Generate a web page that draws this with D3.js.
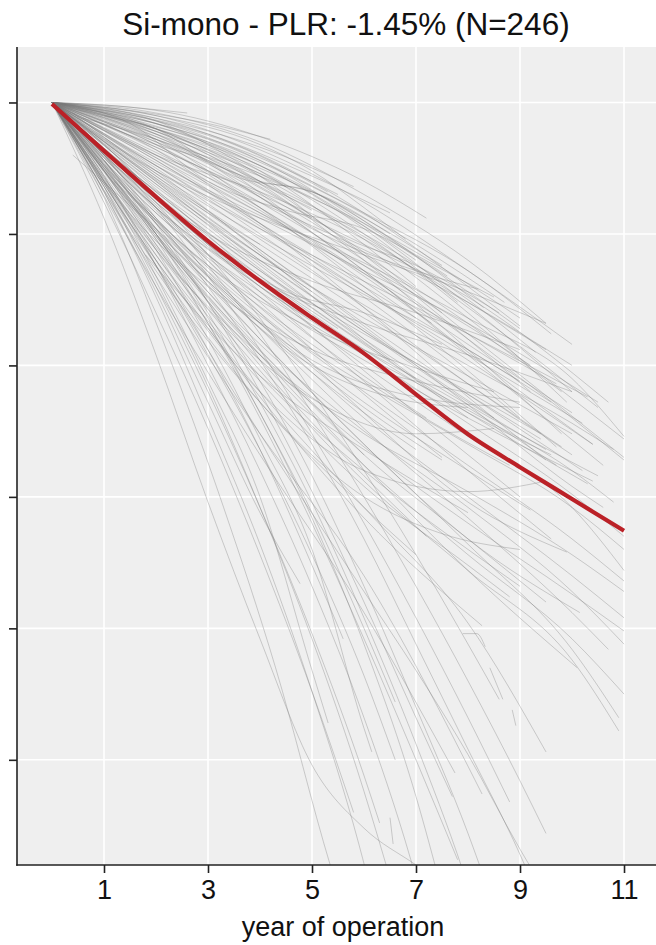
<!DOCTYPE html>
<html>
<head>
<meta charset="utf-8">
<script src="https://cdn.jsdelivr.net/npm/d3@7"></script>
<style>
  html, body { margin: 0; padding: 0; background: #ffffff; }
  svg { display: block; font-family: "Liberation Sans", Arial, Helvetica, sans-serif; }
</style>
</head>
<body>
<svg id="chart" width="656" height="945"></svg>
<script>
// Title and axis text
const chartTitle = "Si-mono - PLR: -1.45% (N=246)";
const xAxisTitle = "year of operation";

// Axis ticks (x in years, y in % of initial performance; y ticks carry no labels)
const xTicks = [1, 3, 5, 7, 9, 11];
const yTicks = [75, 80, 85, 90, 95, 100];

// Median degradation path (year, % of initial performance)
const medianYears  = [0, 1, 2, 3, 4, 5, 6, 7, 8, 9, 10, 11];
const medianValues = [99.94, 98.16, 96.41, 94.73, 93.21, 91.81, 90.46, 88.9, 87.38, 86.13, 84.92, 83.71];

// Individual systems: smoothed performance paths as [year, %] knots
const systemsUpper = [
  [[0,100],[2,99.7],[4,98.7],[6,97.0],[7.2,95.6]],
  [[0,100],[2,99.6],[4,98.5],[6,96.5],[8,94.0],[9.5,91.6]],
  [[0,100],[2,99.5],[4,98.2],[6,96.2],[8,93.6],[10,90.8]],
  [[0,100],[2,99.4],[4,98.0],[6,95.8],[8,93.0],[9,91.5]],
  [[0,100],[1.5,99.7],[3,99.2],[4.2,98.6]],
  [[0,100],[1,99.9],[2.6,99.6]],
  [[0,100],[2,99.2],[4,97.6],[6,95.3],[8,92.3],[10,89.0]],
  [[0,100],[2,99.0],[4,97.2],[6,94.8],[8,91.8],[11,87.2]],
  [[0,100],[2,98.8],[4,96.8],[6,94.3],[8,91.2],[11,86.5]],
  [[0,100],[2,98.6],[4,96.6],[6,94.2],[8,91.6],[9.8,89.0]],
  [[0,100],[2,99.0],[4,97.5],[6,95.6],[7.5,93.8]],
  [[0,100],[2,98.5],[4,96.4],[6,93.6],[8,90.5],[10.4,87.0]],
  [[0,100],[2,98.2],[4,96.0],[6,93.5],[8,90.8],[10,88.2]],
  [[0,100],[2,98.3],[4,96.5],[6,94.6],[8,92.6],[10.7,88.6]],
  [[0,100],[3,98.8],[5,97.2],[6.5,95.8]],
  [[0,100],[1,99.6],[3,98.2],[4.5,96.8]],
  [[0,100],[2,99.3],[3.5,98.4],[5.3,96.6]],
  [[0,100],[2,98.9],[4,97.0],[5,95.9]],
  [[0.3,99.8],[2,99.0],[4,97.6],[6,95.5],[8.3,92.2]],
  [[0,100],[2,98.0],[4,95.8],[6,93.5],[8,91.2],[9.7,89.3]],
  [[0,100],[2,97.9],[4,95.4],[6,92.8],[8,90.2],[10.4,87.0]],
  [[0,100],[2,97.6],[4,95.0],[6,92.2],[8,89.3],[10,86.6]],
  [[0,100],[2,98.0],[4,95.9],[6,93.2],[7,91.8]],
  [[0,100],[2,97.8],[4,95.3],[6,92.6],[8,89.6],[9,88.0]],
  [[0,100],[2,98.4],[4,96.2],[6,93.8],[8,91.0],[10,88.0],[11,86.4]],
  [[0,100],[1.5,99.1],[3,97.8],[5,95.6]],
  [[0,100],[2,99.1],[4,97.6],[6,95.2],[7.8,92.4]],
  [[0,100],[2,98.7],[4,97.0],[6,95.0],[8,92.5],[9.3,90.5]],
  [[0,100],[2,99.4],[4,98.3],[5.8,96.8]],
  [[0,100],[3,98.6],[6,95.8],[8,93.6],[9.6,91.2]],
  [[1,99.5],[3,98.5],[5,96.8],[7,94.6],[8.7,92.4]],
  [[0,100],[2,98.1],[4,96.2],[6,94.4],[8,92.4],[10,90.0]],
  [[0,100],[2,98.6],[4,97.2],[6,95.4],[8,93.1],[9,91.8]],
  [[0,100],[2,97.7],[4,95.7],[6,93.9],[8,91.8],[10,89.5],[11,87.3]],
  [[0,100],[2,98.3],[4,96.4],[6,94.0],[7.5,92.0]],
  [[0,100],[2,98.8],[4,97.3],[6,95.3],[7,94.0]],
  [[0.5,99.8],[2,99.2],[4,97.9],[5.5,96.5]],
  [[0,100],[2,98.9],[4,97.4],[6,95.0],[8,92.0],[9.9,88.6]],
  [[0,100],[2,98.5],[4,96.9],[6,94.9],[8,92.2],[10.5,88.4]],
  [[0,100],[2,97.9],[4,95.8],[6,93.8],[8,91.5],[9.2,90.0]],
  [[0,100],[2,99.0],[4,97.0],[6,94.2],[8,91.0],[9.2,89.0]],
  [[0,100],[2,98.6],[4,96.0],[6,93.0],[8,89.8],[9.7,86.9]],
  [[0,100],[2,98.2],[4,95.4],[6,92.2],[8,88.8],[9.5,86.4]],
  [[0,100],[2,99.2],[4,97.4],[6,94.6],[7,93.0]],
  [[0,100],[2,98.8],[4,96.4],[6,93.6],[8,90.4],[10.6,86.2]],
  [[0,100],[2,97.8],[4,95.4],[6,93.0],[8,90.6],[9,89.4]],
  [[0,100],[2,97.4],[4,95.2],[6,93.2],[8,91.2],[10.3,88.8]],
  [[0,100],[2,98.0],[4,96.6],[6,94.8],[8,92.4],[9.5,90.6]],
  [[0,100],[2,98.9],[4,96.9],[6,94.0],[8,90.6],[9.8,87.4]],
  [[0,100],[2,99.3],[4,97.8],[6,95.4],[8,92.8],[9,91.4]],
  [[0,100],[2,99.5],[4,98.4],[5,97.4],[6,96.0],[6.8,94.8]],
  [[0,100],[2,98.4],[4,96.0],[6,93.4],[7.3,91.6]],
  [[0,100],[2,97.6],[4,95.6],[6,93.6],[8,91.6],[10.5,88.6]],
  [[0,100],[1,98.6],[2,97.4],[4,95.6],[6,94.2],[8,92.8],[9.5,91.6]],
  [[0,100],[1,98.0],[3,95.0],[5,93.2],[7,92.0],[9,90.6]],
  [[0,100],[2,99.0],[3.5,97.2],[5,96.6],[7,94.2],[8.5,92.6]],
  [[0,100],[1.5,99.2],[3,97.0],[4.5,95.9],[6,95.2],[7.6,93.4]],
  [[0,100],[2,98.4],[3,97.8],[5,95.2],[7,93.6],[8.2,92.9]],
  [[0.6,99.4],[2,98.6],[4,97.0],[5,96.6],[6.5,95.0]],
  [[0,100],[2,99.3],[4,97.2],[5.5,95.0],[7,93.8],[8.6,92.0]]
];

const systemsMiddle = [
  [[0,100],[2,97.2],[4,94.6],[6,92.0],[8,89.3],[9.8,86.9]],
  [[0,100],[2,96.8],[4,94.0],[6,91.3],[8,88.6],[9.5,86.8]],
  [[0,100],[2,97.0],[4,93.9],[6,90.9],[8,88.0]],
  [[0,100],[2,96.3],[4,93.0],[6,90.0],[8,87.3],[10,84.6],[11,82.2]],
  [[0,100],[2,96.0],[4,92.6],[6,89.6],[7.2,88.0]],
  [[0,100],[2,96.6],[4,93.6],[6,90.8],[8,88.2],[10.3,85.5]],
  [[0,100],[2,97.4],[4,94.3],[6,91.0],[7,89.5]],
  [[0,100],[2,96.9],[4,94.2],[6,91.8],[8,89.6],[10,87.4]],
  [[0,100],[2,95.8],[4,92.6],[6,90.2],[8,88.0],[10.4,85.6]],
  [[0,100],[2,96.2],[4,93.4],[5.5,91.4]],
  [[0,100],[1,98.2],[3,95.2],[5,92.2],[6.5,90.2]],
  [[0,100],[2,96.4],[4,92.8],[6,89.4],[8,86.0],[9.6,83.4]],
  [[0,100],[2,95.6],[4,92.0],[6,89.0],[8,86.2],[10,83.4],[11,81.8]],
  [[0,100],[2,96.7],[4,93.2],[6,89.8],[8,86.6],[9,85.0]],
  [[0.4,99.6],[2,97.2],[4,94.4],[6,91.6],[8,88.9],[10.2,86.0]],
  [[0,100],[2,97.5],[4,94.8],[6,92.3],[8,90.0],[10,87.8],[10.8,86.8]],
  [[0,100],[2,96.1],[4,92.4],[6,88.9],[7.5,86.5]],
  [[0,100],[2,97.0],[4,94.0],[6,91.3],[8,88.9],[9.4,87.2]],
  [[0,100],[2,96.5],[4,93.4],[6,90.6],[8,88.2],[9.6,86.6]],
  [[0,100],[2,95.4],[4,91.7],[6,88.6],[8,86.0],[9.2,84.5]],
  [[0,100],[3,95.6],[5,92.8],[7,90.0],[8.5,88.0]],
  [[0,100],[2,97.3],[4,94.9],[6,92.7],[8,90.6],[9.6,88.6]],
  [[0,100],[2,96.0],[4,93.0],[6,90.4],[8,87.8],[10,85.1],[11,83.5]],
  [[0,100],[2,95.2],[4,91.4],[6,88.2],[7,86.8]],
  [[0,100],[2,95.9],[4,92.2],[5,90.6]],
  [[0,100],[2,97.6],[4,95.2],[6,92.8],[8,90.4],[10.2,87.8]],
  [[0,100],[2,96.6],[4,93.6],[6,91.2],[8,89.0],[9.4,87.4]],
  [[0,100],[2,95.5],[4,91.9],[6,89.3],[8,87.0],[10,84.6],[11,83.0]],
  [[0,100],[2,97.3],[4,94.4],[6,91.5],[8,88.5],[10,85.4],[10.6,84.6]],
  [[0,100],[2,96.9],[4,93.8],[6,91.0],[8,88.5],[10.5,85.8]],
  [[0,100],[2,96.2],[4,93.0],[6,90.6],[8,88.4],[9.7,86.2]],
  [[0,100],[2,95.8],[4,92.8],[6,90.4],[8,88.3],[10,86.0],[10.8,84.8]],
  [[0,100],[2,97.1],[4,94.2],[5,92.8]],
  [[0,100],[1.5,97.8],[3,95.8],[4,94.6]],
  [[0.4,98.0],[2,95.2],[4,91.6],[6,88.4],[7.5,86.4]],
  [[1.2,97.0],[3,93.8],[5,90.8],[7,88.2],[8.8,86.2]],
  [[1.8,94.2],[4,89.6],[6,86.8],[8,84.4]],
  [[0,100],[1,97.6],[3,93.8],[5,91.4],[7,89.9],[8.5,89.0]],
  [[0,100],[2,96.0],[4,93.2],[6,91.6],[8,90.4],[10,89.0]],
  [[0,100],[1,97.0],[3,93.0],[5,90.6],[7,89.4],[9,88.6]],
  [[0,100],[1.5,96.2],[3,93.2],[5,90.0],[6.5,88.8],[8,88.4]],
  [[0,100],[1,98.4],[3,94.6],[4.5,92.8],[6,92.0],[7.5,90.8]]
];

const systemsLower = [
  [[0,100],[2,95.0],[4,90.8],[6,87.5],[8,84.6],[10,81.4],[11,79.4]],
  [[0,100],[2,94.8],[4,90.2],[6,86.2],[8,82.8],[10,79.6],[11,77.5]],
  [[0,100],[2,95.2],[4,91.0],[6,87.0],[8,83.2],[10,79.2],[10.9,76.6]],
  [[0,100],[2,94.6],[4,89.8],[6,85.6],[8,82.2],[10,78.8],[10.9,76.1]],
  [[0,100],[2,94.4],[4,89.6],[6,86.0],[8,83.0],[9,81.6]],
  [[0,100],[2,94.0],[4,89.0],[6,84.6],[8,80.2],[9.5,75.3]],
  [[0,100],[2,94.2],[4,88.8],[6,84.2],[8.27,80.1]],
  [[0,100],[2,93.0],[4,86.6],[6,80.6],[7.75,74.5]],
  [[0,100],[2,93.4],[4,87.4],[6,82.0],[8.27,73.7]],
  [[0,100],[2,95.4],[4,91.4],[6,87.6],[8,84.2],[10,80.6],[10.7,79.2]],
  [[0,100],[2,95.1],[4,90.6],[6,86.6],[8,83.4],[9.5,81.0]],
  [[0,100],[2,94.9],[4,90.4],[6,86.9],[8,84.0],[10,81.3],[11,79.9]],
  [[0,100],[2,95.6],[4,91.6],[6,88.0],[8,85.0],[10,82.0],[11,80.4]],
  [[0,100],[2,94.2],[4,89.4],[6,85.4],[8,82.4],[8.8,81.2]],
  [[0,100],[2,95.0],[4,90.0],[6,85.8],[7.2,83.5]],
  [[0,100],[2,93.8],[4,88.6],[6,84.6],[7,82.8]],
  [[0,100],[2,94.4],[4,90.4],[6,87.4],[8,85.2],[10,82.8],[11,81.4]],
  [[0,100],[3,92.6],[5,88.6],[6,86.6]],
  [[0,100],[2,94.5],[4,90.2],[5.5,88.2],[7,87.4],[8.5,87.6]],
  [[0,100],[2,94.0],[4,89.0],[6,86.0],[8,85.2],[9.5,85.6]],
  [[1,97.8],[3,93.4],[5,90.2],[7,88.8],[9,88.4]],
  [[0,100],[2,93.6],[4,88.6],[6,85.0],[7.5,83.6],[9,83.0]],
  [[0,100],[2,96.0],[4,92.0],[6,88.2],[8,84.8],[9.9,82.9]],
  [[0,100],[2,95.4],[4,91.0],[6,87.0],[8,83.4],[10.15,80.6]],
  [[0,100],[2,95.0],[4,90.4],[6,86.2],[8,82.2],[10.1,78.5]],
  [[7.9,79.8],[8.17,79.8],[8.33,79.3]],
  [[8.42,78.5],[8.67,77.3]],
  [[8.85,76.9],[8.92,76.3]]
];

const systemsSteep = [
  [[0,100],[1,96.4],[2.2,90.6],[3.3,84.6],[4.3,78.5],[5.35,71.0],[5.6,69.4]],
  [[0,100],[1,96.6],[2,92.6],[3,88.0],[4,83.2],[5,77.6],[5.9,71.8],[6.2,69.5]],
  [[0,100],[1,96.8],[2,93.2],[3,89.2],[4,84.6],[5,79.6],[6,73.8],[6.5,70.5]],
  [[0,100],[1,97.2],[2,93.8],[3,90.0],[4,86.0],[5,81.6],[6,76.6],[6.9,71.2],[7.1,69.8]],
  [[0,100],[1,96.6],[2,92.8],[3,88.6],[4,84.4],[4.77,81.7]],
  [[0,100],[1,97.0],[2,93.4],[3,89.4],[4,85.0],[5,78.4],[5.31,76.4]],
  [[0,100],[1,97.4],[2,94.4],[3,91.0],[4,87.2],[5,83.0],[6,76.2],[6.15,75.3]],
  [[6.5,72.8],[6.56,71.8]],
  [[0,100],[1,97.4],[2,94.6],[3,91.6],[4,88.2],[5,84.2],[6,79.4],[7,73.6],[7.5,70.0]],
  [[0,100],[1,97.6],[2,95.0],[3,92.0],[4,88.6],[5,84.8],[6,80.4],[7,75.6],[7.9,70.8],[8.1,69.6]],
  [[0,100],[1,97.8],[2,95.2],[3,92.4],[4,89.4],[5,85.8],[6,81.6],[7,77.0],[8,72.2],[8.4,70.0]],
  [[0,100],[1,98.0],[2,95.6],[3,93.0],[4,90.2],[5,87.0],[6,83.4],[7,79.4],[8,75.4],[9,71.4],[9.2,70.5]],
  [[0,100],[1,95.6],[2,90.4],[3,84.8],[4,79.6],[5,74.8],[6,72.4],[7,71.0],[7.5,70.3]],
  [[0,100],[2,93.8],[4,87.4],[6,81.4],[7,78.4],[8,75.2],[9,71.6],[9.3,70.6]],
  [[0,100],[1,97.0],[2,93.8],[3,90.4],[4,86.8],[5,82.8],[6,78.2],[6.6,75.0]],
  [[0,100],[1,96.2],[2,92.0],[3,87.6],[4,82.8],[5,77.6],[5.8,73.0]],
  [[0,100],[1,97.6],[2,94.8],[3,91.6],[4,88.0],[5,84.0],[6,79.6],[7,75.0],[7.8,71.2]],
  [[0,100],[1,98.2],[2,96.0],[3,93.4],[4,90.6],[5,87.4],[6,84.0],[7,80.4],[8,76.6],[8.8,73.4]],
  [[0,100],[1,98.0],[2,95.4],[3,92.4],[4,89.0],[5,85.2],[6,81.0],[7,76.6],[7.7,73.6]],
  [[0,100],[1,97.2],[2,94.0],[3,90.6],[4,86.8],[5,82.4],[5.6,79.6]],
  [[0,100],[1,96.8],[2,93.0],[3,89.0],[4,84.6],[5,79.8],[6,74.4],[6.3,72.6]],
  [[0,100],[1,98.2],[2,96.2],[3,93.8],[4,91.2],[5,88.2],[6,85.0],[7,81.6],[8,78.0],[9,74.2],[9.5,72.2]],
  [[0,100],[1,98.4],[2,96.4],[3,94.2],[4,91.8],[5,89.0],[6,86.0],[7,82.8],[8,79.4],[8.6,77.3]],
  [[0,100],[1,97.8],[2,95.0],[3,91.8],[4,88.2],[5,84.4],[6,80.0],[6.6,77.2]]
];

// ---- layout ----
const panel = { left: 17, right: 656, top: 47, bottom: 865 };

const x = d3.scaleLinear().domain([-0.673, 11.615]).range([panel.left, panel.right]);
const y = d3.scaleLinear().domain([71.0, 102.11]).range([panel.bottom, panel.top]);

const svg = d3.select("#chart");

svg.append("defs").append("clipPath").attr("id", "panel-clip")
  .append("rect")
  .attr("x", panel.left).attr("y", panel.top)
  .attr("width", panel.right - panel.left).attr("height", panel.bottom - panel.top);

// panel background
svg.append("rect")
  .attr("x", panel.left).attr("y", panel.top)
  .attr("width", panel.right - panel.left).attr("height", panel.bottom - panel.top)
  .attr("fill", "#efefef");

// grid
const grid = svg.append("g").attr("clip-path", "url(#panel-clip)");
grid.selectAll("line.gx").data(xTicks).join("line")
  .attr("class", "gx")
  .attr("x1", d => x(d)).attr("x2", d => x(d))
  .attr("y1", panel.top).attr("y2", panel.bottom)
  .attr("stroke", "#ffffff").attr("stroke-width", 1.6);
grid.selectAll("line.gy").data(yTicks).join("line")
  .attr("class", "gy")
  .attr("y1", d => y(d)).attr("y2", d => y(d))
  .attr("x1", panel.left).attr("x2", panel.right)
  .attr("stroke", "#ffffff").attr("stroke-width", 1.6);

// systems
const line = d3.line()
  .x(d => x(d[0]))
  .y(d => y(d[1]))
  .curve(d3.curveMonotoneX);

const allSystems = systemsUpper.concat(systemsMiddle, systemsLower, systemsSteep);
const plot = svg.append("g").attr("clip-path", "url(#panel-clip)");
plot.selectAll("path.system").data(allSystems).join("path")
  .attr("class", "system")
  .attr("d", line)
  .attr("fill", "none")
  .attr("stroke", "#777777")
  .attr("stroke-opacity", 0.34)
  .attr("stroke-width", 1);

// median path
const medianLine = d3.line()
  .x(d => x(d[0]))
  .y(d => y(d[1]))
  .curve(d3.curveCatmullRom.alpha(0.5));
const medianPts = medianYears.map((yr, i) => [yr, medianValues[i]]);
plot.append("path")
  .datum(medianPts)
  .attr("d", medianLine)
  .attr("fill", "none")
  .attr("stroke", "#bb2127")
  .attr("stroke-width", 4.2)
  .attr("stroke-linecap", "butt");

// axes
const xAxis = d3.axisBottom(x).tickValues(xTicks).tickSize(8).tickPadding(7).tickFormat(d3.format("d"));
const yAxis = d3.axisLeft(y).tickValues(yTicks).tickSize(8).tickFormat("");

const gx = svg.append("g").attr("transform", `translate(0,${panel.bottom})`).call(xAxis);
gx.select(".domain").remove();
gx.selectAll(".tick line").attr("stroke", "#222").attr("stroke-width", 1.6);
gx.selectAll(".tick text").attr("fill", "#111").attr("font-size", 27)
  .attr("font-family", "'Liberation Sans', Arial, sans-serif");

const gy = svg.append("g").attr("transform", `translate(${panel.left},0)`).call(yAxis);
gy.select(".domain").remove();
gy.selectAll(".tick line").attr("stroke", "#222").attr("stroke-width", 1.6);

// axis lines
svg.append("line")
  .attr("x1", panel.left).attr("x2", panel.left)
  .attr("y1", panel.top).attr("y2", panel.bottom + 0.8)
  .attr("stroke", "#222").attr("stroke-width", 1.6);
svg.append("line")
  .attr("x1", panel.left - 0.8).attr("x2", panel.right)
  .attr("y1", panel.bottom).attr("y2", panel.bottom)
  .attr("stroke", "#222").attr("stroke-width", 1.6);

// titles
svg.append("text")
  .attr("x", 346)
  .attr("y", 35)
  .attr("text-anchor", "middle")
  .attr("font-size", 31.5)
  .attr("fill", "#111")
  .text(chartTitle);

svg.append("text")
  .attr("x", 343)
  .attr("y", 936)
  .attr("text-anchor", "middle")
  .attr("font-size", 27)
  .attr("fill", "#111")
  .text(xAxisTitle);
</script>
</body>
</html>
